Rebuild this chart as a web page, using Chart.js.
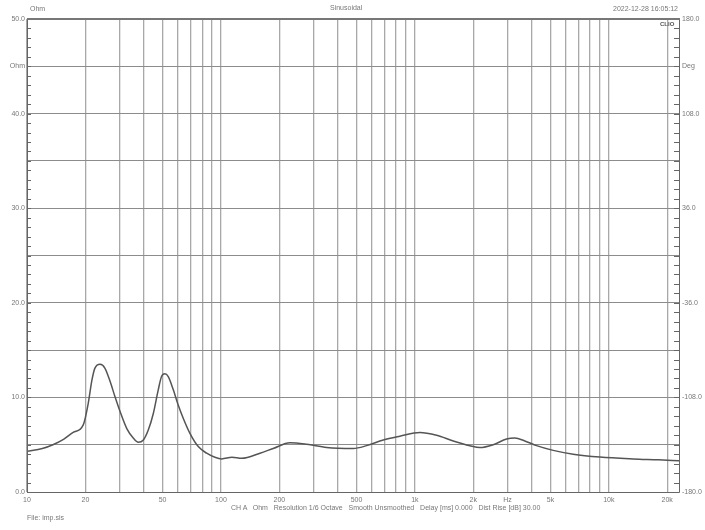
<!DOCTYPE html>
<html>
<head>
<meta charset="utf-8">
<script src="https://cdn.jsdelivr.net/npm/chart.js@4.4.1/dist/chart.umd.min.js"></script>
<style>
  html, body { margin: 0; padding: 0; background: #fff; }
  #wrap { position: relative; width: 705px; height: 530px; font-family: "Liberation Sans", Arial, sans-serif; color: #777; }
  #wrap canvas { position: absolute; left: 0; top: 0; }
  .txt { position: absolute; font-size: 7px; white-space: pre; line-height: 8px; }
</style>
</head>
<body>
<div id="wrap">
  <canvas id="impChart" width="705" height="530"></canvas>
  <div class="txt" style="left:30px; top:5px;">Ohm</div>
  <div class="txt" style="left:330px; top:4px;">Sinusoidal</div>
  <div class="txt" style="right:27px; top:5px;">2022-12-28 16:05:12</div>
  <div class="txt" style="left:660px; top:20px; font-weight:bold; color:#555; font-size:6px;">CLIO</div>
  <div class="txt" style="left:231px; top:504px;">CH A   Ohm   Resolution 1/6 Octave   Smooth Unsmoothed   Delay [ms] 0.000   Dist Rise [dB] 30.00</div>
  <div class="txt" style="left:27px; top:514px;">File: imp.sis</div>
</div>
<script>
// impedance curve (Hz, Ohm)
const freqs = [10, 12, 13.6, 15.5, 17.3, 19.5, 20.7, 21.6, 22.4, 23.8, 25.2, 26.8, 28.4, 30.2, 32.7, 35.3, 37.5, 39.8, 42.2, 44.8, 47.5, 49.4, 51.4, 53.5, 56.8, 60.2, 63.9, 69.2, 76.4, 84.4, 93.1, 101, 114, 128, 159, 186, 227, 277, 351, 481, 564, 687, 837, 1062, 1294, 1577, 1921, 2163, 2535, 2970, 3275, 3688, 4240, 5165, 6546, 8995, 13340, 18000, 23000];
const ohms = [4.3, 4.6, 5.0, 5.6, 6.3, 7.1, 9.4, 11.8, 13.1, 13.5, 13.1, 11.7, 10.1, 8.5, 6.7, 5.7, 5.25, 5.5, 6.55, 8.3, 10.8, 12.2, 12.5, 12.2, 10.8, 9.2, 7.8, 6.2, 4.8, 4.1, 3.67, 3.5, 3.67, 3.56, 4.1, 4.6, 5.2, 5.04, 4.7, 4.6, 4.9, 5.5, 5.9, 6.3, 6.0, 5.4, 4.9, 4.7, 5.0, 5.6, 5.7, 5.4, 4.9, 4.4, 4.0, 3.7, 3.5, 3.4, 3.3];

const gridFreqs = [10, 20, 30, 40, 50, 60, 70, 80, 90, 100, 200, 300, 400, 500, 600, 700, 800, 900, 1000, 2000, 3000, 4000, 5000, 6000, 7000, 8000, 9000, 10000, 20000];
const freqLabels = { 10: "10", 20: "20", 50: "50", 100: "100", 200: "200", 500: "500", 1000: "1k", 2000: "2k", 3000: "Hz", 5000: "5k", 10000: "10k", 20000: "20k" };

const ohmTicks = [0, 5, 10, 15, 20, 25, 30, 35, 40, 45, 50];
const ohmLabels = ["0.0", "", "10.0", "", "20.0", "", "30.0", "", "40.0", "Ohm", "50.0"];
const degTicks = [-180, -144, -108, -72, -36, 0, 36, 72, 108, 144, 180];
const degLabels = ["-180.0", "", "-108.0", "", "-36.0", "", "36.0", "", "108.0", "Deg", "180.0"];

const tickFont = { family: "'Liberation Sans', Arial, sans-serif", size: 7 };

const framePlugin = {
  id: "frame",
  afterDatasetsDraw(chart) {
    const { ctx, chartArea: a, scales } = chart;
    ctx.save();
    ctx.strokeStyle = "#666";
    // minor ticks, inside the frame
    ctx.lineWidth = 1;
    ctx.beginPath();
    for (let v = 0; v <= 50; v++) {
      const y = Math.round(scales.y.getPixelForValue(v)) + 0.5;
      ctx.moveTo(a.left, y);
      ctx.lineTo(a.left + 4, y);
      ctx.moveTo(a.right - 5, y);
      ctx.lineTo(a.right, y);
    }
    ctx.stroke();
    ctx.beginPath();
    ctx.moveTo(a.left + 0.5, a.top);
    ctx.lineTo(a.left + 0.5, a.bottom + 0.5);
    ctx.lineTo(a.right + 0.5, a.bottom + 0.5);
    ctx.lineTo(a.right + 0.5, a.top);
    ctx.stroke();
    ctx.lineWidth = 2;
    ctx.strokeStyle = "#777";
    ctx.beginPath();
    ctx.moveTo(a.left, a.top);
    ctx.lineTo(a.right + 1, a.top);
    ctx.stroke();
    ctx.restore();
  },
};

new Chart(document.getElementById("impChart"), {
  type: "line",
  data: {
    datasets: [
      {
        data: freqs.map((f, i) => ({ x: f, y: ohms[i] })),
        borderColor: "#555",
        borderWidth: 1.5,
        pointRadius: 0,
        cubicInterpolationMode: "monotone",
        yAxisID: "y",
      },
    ],
  },
  options: {
    responsive: false,
    animation: false,
    layout: { padding: { top: 19, left: 0, right: 0, bottom: 0 } },
    plugins: { legend: { display: false }, tooltip: { enabled: false } },
    scales: {
      x: {
        type: "logarithmic",
        min: 10,
        max: 23000,
        afterBuildTicks: (scale) => {
          scale.ticks = gridFreqs.map((v) => ({ value: v }));
        },
        afterFit: (scale) => {
          scale.height = 38;
        },
        ticks: {
          autoSkip: false,
          maxRotation: 0,
          padding: 4,
          color: "#777",
          font: tickFont,
          callback: (v) => freqLabels[v] || "",
        },
        grid: { color: "#a8a8a8", lineWidth: 1.3, drawTicks: false },
        border: { display: false },
      },
      y: {
        position: "left",
        min: 0,
        max: 50,
        afterBuildTicks: (scale) => {
          scale.ticks = ohmTicks.map((v) => ({ value: v }));
        },
        afterFit: (scale) => {
          scale.width = 27;
        },
        ticks: {
          padding: 2,
          color: "#777",
          font: tickFont,
          callback: (v) => ohmLabels[ohmTicks.indexOf(v)],
        },
        grid: { color: "#8c8c8c", lineWidth: 1, drawTicks: false },
        border: { display: false },
      },
      y2: {
        position: "right",
        min: -180,
        max: 180,
        afterBuildTicks: (scale) => {
          scale.ticks = degTicks.map((v) => ({ value: v }));
        },
        afterFit: (scale) => {
          scale.width = 26;
        },
        ticks: {
          padding: 3,
          color: "#777",
          font: tickFont,
          callback: (v) => degLabels[degTicks.indexOf(v)],
        },
        grid: { display: false, drawTicks: false },
        border: { display: false },
      },
    },
  },
  plugins: [framePlugin],
});
</script>
</body>
</html>
